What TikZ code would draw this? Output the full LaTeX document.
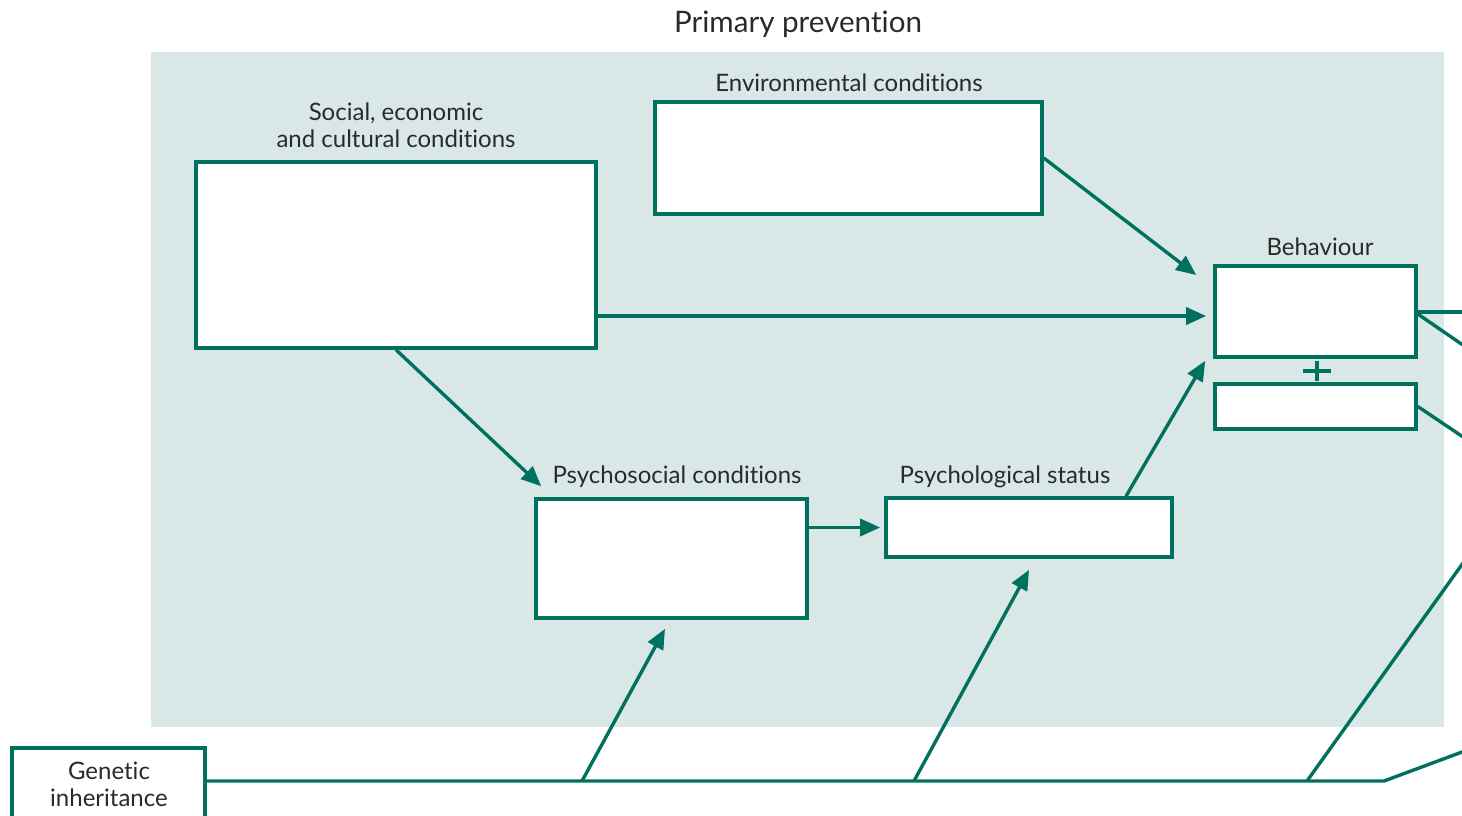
\documentclass[tikz,border=0pt]{standalone}
\usepackage{fontspec}
\setmainfont{Lato}[Ligatures=NoCommon]
\usetikzlibrary{arrows.meta,calc}
\definecolor{teal}{HTML}{00715F}
\definecolor{panel}{HTML}{D9E8E6}
\definecolor{ink}{HTML}{2A2A2A}
\tikzset{
  box/.style={draw=teal, line width=1.8pt, fill=white, inner sep=0pt},
  link/.style={draw=teal, line width=1.7pt},
  arr/.style={link, -{Triangle[length=10pt,width=8.5pt]}},
  lbl/.style={text=ink, font=\fontsize{12}{13.5}\selectfont, inner sep=0pt, align=center},
}
\begin{document}
\begin{tikzpicture}[x=0.5pt, y=-0.5pt]
  \useasboundingbox (0,0) rectangle (1462,815);
  \clip (0,0) rectangle (1462,815);

  % shaded area of primary prevention
  \fill[panel] (151,52) rectangle (1444,727);
  \node[text=ink, font=\fontsize{14.8}{16}\selectfont, inner sep=0pt] (title) at (798,24) {Primary prevention};

  % boxes
  \node[box, minimum width=200pt, minimum height=93pt] (soc) at (396,255) {};
  \node[box, minimum width=193.5pt, minimum height=56pt] (env) at (848.5,158) {};
  \node[box, minimum width=100.5pt, minimum height=45.5pt] (beh) at (1315.5,311.5) {};
  \node[box, minimum width=100.5pt, minimum height=22.5pt] (beh2) at (1315.5,406.5) {};
  \node[box, minimum width=135.5pt, minimum height=59.5pt] (psy) at (671.5,558.5) {};
  \node[box, minimum width=143pt, minimum height=29.5pt] (stat) at (1029,527.5) {};
  \node[box, minimum width=96.5pt, minimum height=42pt] (gen) at (108.5,790) {};

  % labels
  \node[lbl, anchor=south] (socl) at ($(soc.north)+(0,-12)$) {Social, economic\\and cultural conditions};
  \node[lbl] (envl) at (849,83) {Environmental conditions};
  \node[lbl] (behl) at (1320,247) {Behaviour};
  \node[lbl] (psyl) at (677,477) {Psychosocial conditions};
  \node[lbl] (statl) at (1005,477) {Psychological status};
  \node[lbl, font=\fontsize{12}{13.5}\selectfont] (genl) at (109,784) {Genetic\\inheritance};

  % plus sign between the two behaviour boxes
  \coordinate (plus) at (1317,371);
  \draw[teal, line width=2.4pt] ($(plus)+(-14,0)$) -- ($(plus)+(14,0)$)
                                ($(plus)+(0,-10)$) -- ($(plus)+(0,10)$);

  % arrows inside the panel
  \draw[arr] ($(soc.east)+(0,61)$) -- ($(beh.west)+(-7,4.5)$);
  \draw[arr] (env.east) -- ($(beh.west)+(-17,-36.5)$);
  \draw[arr] (soc.south) -- ($(psy.north west)+(7,-11)$);
  \draw[arr] (psy.east |- stat.west) -- ($(stat.west)+(-4,0)$);
  \draw[arr] ($(stat.north)+(97,0)$) -- ($(beh.south west)+(-8,2)$);

  % genetic inheritance line and its branches
  \coordinate (bend) at (1384,781);
  \coordinate (g1) at (582,781);
  \coordinate (g2) at (914,781);
  \coordinate (g3) at (1307,781);
  \coordinate (o1) at (1500,737.9);
  \coordinate (o2) at (1500,511.3);
  \coordinate (o3) at (1500,312);
  \coordinate (o4) at (1500,370.6);
  \coordinate (o5) at (1500,461.8);
  \draw[link] (gen.east |- bend) -- (bend) -- (o1);
  \draw[arr] (g1) -- ($(psy.south)+(-6.5,9)$);
  \draw[arr] (g2) -- ($(stat.south)+(0,11)$);
  \draw[link] (g3) -- (o2);

  % lines leaving the behaviour boxes
  \draw[link] ($(beh.east)+(0,0.5)$) -- (o3);
  \draw[link] ($(beh.east)+(0,2.5)$) -- (o4);
  \draw[link] (beh2.east) -- (o5);
\end{tikzpicture}
\end{document}
